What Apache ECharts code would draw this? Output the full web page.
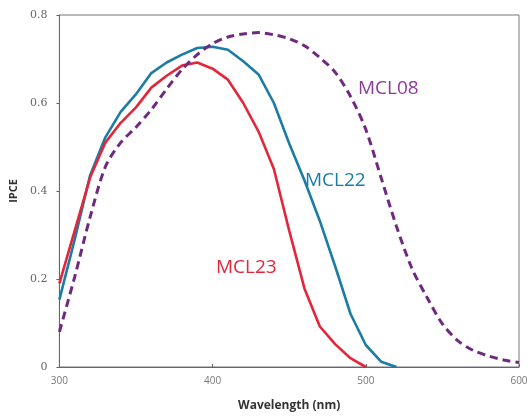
<!DOCTYPE html>
<html>
<head>
<meta charset="utf-8">
<script src="https://cdn.jsdelivr.net/npm/echarts@6/dist/echarts.min.js"></script>
<style>html,body{margin:0;padding:0;background:#fff;}#c{width:531px;height:417px;}</style>
</head>
<body>
<div id="c"></div>
<script>
const wavelengths = [300,310,320,330,340,350,360,370,380,390,400,410,420,430,440,450,460,470,480,490,500,510,520,530,540,550,560,570,580,590,600];
const mcl23 = [0.19,0.31,0.43,0.51,0.555,0.59,0.635,0.662,0.685,0.692,0.678,0.653,0.60,0.535,0.45,0.31,0.178,0.092,0.052,0.02,0.0];
const mcl22 = [0.153,0.29,0.435,0.522,0.58,0.62,0.668,0.692,0.71,0.725,0.728,0.721,0.695,0.665,0.60,0.508,0.424,0.332,0.229,0.121,0.05,0.012,0.0];
const mcl08 = [0.08,0.205,0.34,0.455,0.51,0.545,0.585,0.632,0.676,0.71,0.735,0.75,0.757,0.76,0.755,0.746,0.73,0.703,0.67,0.615,0.54,0.43,0.32,0.225,0.158,0.098,0.06,0.038,0.025,0.016,0.01];
const xTicks = [300,400,500,600];
const yTicks = [0,0.2,0.4,0.6,0.8];
const seriesNames = ['MCL23','MCL22','MCL08'];

function pairs(vals){ return vals.map((v,i)=>[wavelengths[i], v]); }

const chart = echarts.init(document.getElementById('c'), null, {renderer:'canvas'});
chart.setOption({
  animation: false,
  backgroundColor: '#fff',
  grid: {left: 59, top: 15, right: 12, bottom: 46, show: true, borderColor: '#777', borderWidth: 1},
  xAxis: {
    type: 'value', min: 300, max: 600, interval: 100,
    name: 'Wavelength (nm)', nameLocation: 'middle', nameGap: 33,
    nameTextStyle: {fontFamily: 'Open Sans', fontWeight: 'bold', fontSize: 12, color: '#333'},
    axisLine: {show: true, lineStyle: {color: '#666', width: 1}},
    axisTick: {show: true, inside: true, length: 3, lineStyle: {color: '#666'}},
    axisLabel: {color: '#777', fontSize: 10, fontFamily: 'Open Sans', margin: 9,
      formatter: v => xTicks.includes(v) ? String(v) : ''},
    splitLine: {show: false}
  },
  yAxis: {
    type: 'value', min: 0, max: 0.8, interval: 0.2,
    name: 'IPCE', nameLocation: 'middle', nameGap: 33,
    nameTextStyle: {fontFamily: 'Open Sans', fontWeight: 'bold', fontSize: 11, color: '#333'},
    axisLine: {show: true, lineStyle: {color: '#666', width: 1}},
    axisTick: {show: true, length: 3, lineStyle: {color: '#666'}},
    axisLabel: {color: '#666', fontSize: 11, fontFamily: 'DejaVu Serif', margin: 12,
      formatter: v => { const t = yTicks.find(k => Math.abs(k - v) < 1e-9); return t === undefined ? '' : (t === 0 ? '0' : t.toFixed(1)); }},
    splitLine: {show: false}
  },
  series: [
    {name: seriesNames[0], type: 'line', data: pairs(mcl23), showSymbol: false, smooth: false,
     lineStyle: {color: '#E3263A', width: 2.6}, z: 3},
    {name: seriesNames[1], type: 'line', data: pairs(mcl22), showSymbol: false, smooth: false,
     lineStyle: {color: '#1B7CA6', width: 2.6}, z: 2},
    {name: seriesNames[2], type: 'line', data: pairs(mcl08), showSymbol: false, smooth: 0.3,
     lineStyle: {color: '#6E2A7E', width: 3, type: [8, 5]}, z: 4}
  ],
  graphic: [
    {type: 'text', left: 358, top: 79, style: {text: seriesNames[2], fill: '#8A3C96', font: '19px "Open Sans"'}},
    {type: 'text', left: 305, top: 171, style: {text: seriesNames[1], fill: '#1B7CA6', font: '19px "Open Sans"'}},
    {type: 'text', left: 216, top: 258, style: {text: seriesNames[0], fill: '#E3263A', font: '19px "Open Sans"'}}
  ]
});
</script>
</body>
</html>
